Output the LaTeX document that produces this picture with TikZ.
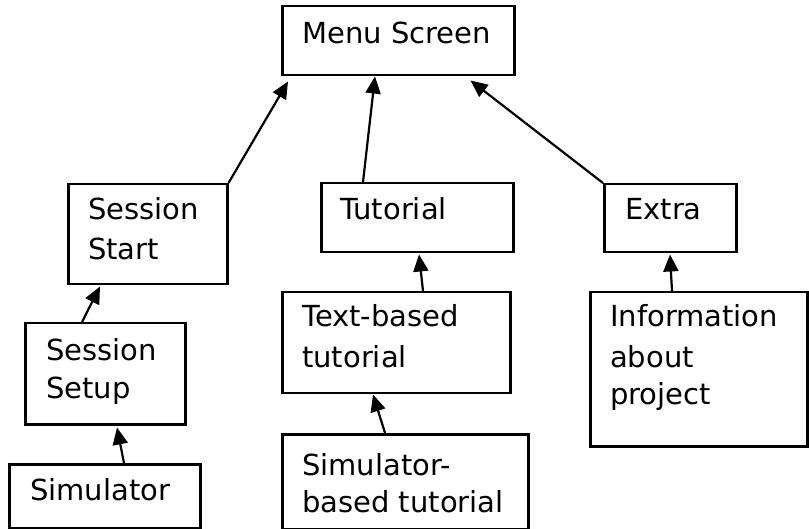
\documentclass[tikz,border=0pt]{standalone}
\usepackage{fontspec}
\setmainfont{DejaVu Sans}
\usetikzlibrary{arrows.meta,calc}
\begin{document}
\begin{tikzpicture}[x=1pt,y=-1pt,
  box/.style={draw,line width=2.5pt,anchor=north west,inner sep=0pt},
  lbl/.style={anchor=base west,inner sep=0pt,align=left,font=\fontsize{29}{40}\selectfont},
  arr/.style={line width=2.2pt,-{Triangle[length=17pt,width=15pt]}}]
\useasboundingbox (0,0) rectangle (809,529);
% boxes
\node[box,minimum width=232pt,minimum height=69pt]  (menu)   at (281,5)   {};
\node[box,minimum width=159pt,minimum height=100pt] (start)  at (67,183)  {};
\node[box,minimum width=160pt,minimum height=101pt] (setup)  at (24,322)  {};
\node[box,minimum width=191pt,minimum height=64pt]  (sim)    at (8,463)   {};
\node[box,minimum width=192pt,minimum height=69pt]  (tut)    at (320,182) {};
\node[box,minimum width=228pt,minimum height=101pt] (textb)  at (281,291) {};
\node[box,minimum width=246pt,minimum height=95pt]  (simtut) at (281,433) {};
\node[box,minimum width=132pt,minimum height=68pt]  (extra)  at (603,183) {};
\node[box,minimum width=217pt,minimum height=154pt] (info)   at (589,291) {};
% labels (anchored at the baseline of their last line)
\node[lbl] (menu-t)   at (302,44)  {Menu Screen};
\node[lbl] (start-t)  at (88,260)  {Session\\Start};
\node[lbl] (setup-t)  at (46,399)  {Session\\[-2pt]Setup};
\node[lbl] (sim-t)    at (30,500)  {Simulator};
\node[lbl] (tut-t)    at (340,220) {Tutorial};
\node[lbl] (textb-t)  at (302,367) {Text-based\\tutorial};
\node[lbl] (simtut-t) at (302,512) {Simulator-\\[-3pt]based tutorial};
\node[lbl] (extra-t)  at (625,220) {Extra};
\node[lbl] (info-t)   at (610,405) {Information\\about\\[-2pt]project};
% connectors
\draw[arr] (start.north east) -- ($(menu.south west)+(7,5)$);
\draw[arr] ($(tut.north west)+(43,0)$) -- ($(menu.south west)+(94,0)$);
\draw[arr] (extra.north west) -- ($(menu.south east)+(-45,4)$);
\draw[arr] ($(textb.north west)+(142,0)$) -- ($(tut.south west)+(99,1)$);
\draw[arr] ($(simtut.north west)+(104,0)$) -- ($(textb.south west)+(92,0)$);
\draw[arr] ($(setup.north west)+(58,0)$) -- ($(start.south west)+(33,1)$);
\draw[arr] ($(sim.north west)+(116,0)$) -- ($(setup.south west)+(93,2)$);
\draw[arr] ($(info.north west)+(83,0)$) -- ($(extra.south west)+(67,1)$);
\end{tikzpicture}
\end{document}
